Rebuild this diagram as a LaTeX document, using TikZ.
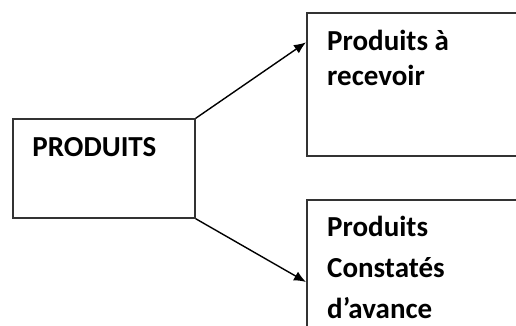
\documentclass[tikz,border=0pt]{standalone}
\usepackage{fontspec}
\setmainfont{Carlito}
\usepackage{tikz}
\usetikzlibrary{calc, arrows.meta}
\definecolor{boxline}{gray}{0.2}

\begin{document}
\begin{tikzpicture}[x=1pt, y=1pt,
  cadre/.style={draw=boxline, line width=1.5pt, inner sep=0pt},
  txt/.style={font=\fontsize{29}{35}\selectfont\bfseries, align=left, anchor=base west, inner sep=0pt},
  fleche/.style={line width=1.4pt, -{Latex[length=12pt, width=10pt]}}]
  \useasboundingbox (0,0) rectangle (516,325);
  \clip (0,0) rectangle (516,325);

  % left box
  \node[cadre, minimum width=182pt, minimum height=99pt] (prod) at (104,156.5) {};
  \node[txt] (prodtxt) at ($(prod.north west)+(20,-38)$) {PRODUITS};

  % right boxes, cut by the page edge
  \node[cadre, minimum width=240pt, minimum height=143pt, anchor=north west] (rec) at (306,313) {};
  \node[txt] (rectxt) at ($(rec.north west)+(21,-73)$) {Produits à\\recevoir};

  \node[cadre, minimum width=240pt, minimum height=150pt, anchor=north west] (cca) at (306,126) {};
  \node[txt, font=\fontsize{29}{41}\selectfont\bfseries] (ccatxt) at ($(cca.north west)+(21,-119)$) {Produits\\Constatés\\d’avance};

  \draw[fleche] (prod.north east) -- ($(rec.north west)!0.21!(rec.south west)$);
  \draw[fleche] (prod.south east) -- ($(cca.north west)+(0,-83)$);
\end{tikzpicture}
\end{document}
